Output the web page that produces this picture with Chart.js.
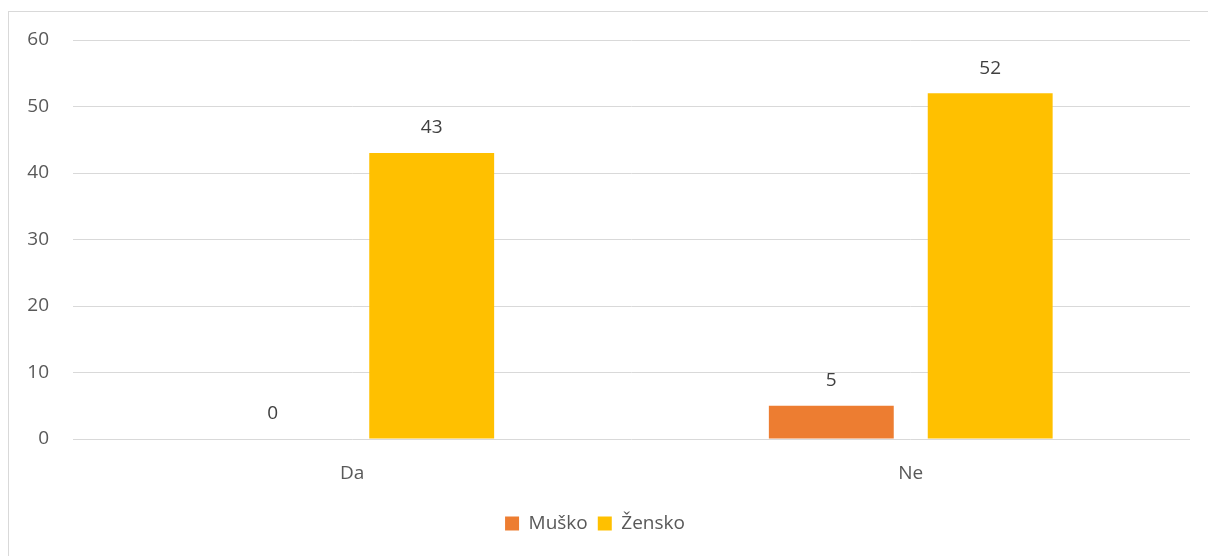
<!DOCTYPE html>
<html>
<head>
<meta charset="utf-8">
<script src="https://cdn.jsdelivr.net/npm/chart.js@4/dist/chart.umd.min.js"></script>
<style>
  html, body { margin: 0; padding: 0; background: #fff; }
  #wrap { position: relative; width: 1208px; height: 556px; }
  #frame {
    position: absolute; left: 8px; top: 11px; width: 1210px; height: 560px;
    border: 1px solid #d9d9d9; box-sizing: border-box;
  }
  canvas { position: absolute; left: 0; top: 0; }
</style>
</head>
<body>
<div id="wrap">
  <div id="frame"></div>
  <canvas id="chart" width="1208" height="556"></canvas>
</div>
<script>
"use strict";

// Chart data
const categories = ["Da", "Ne"];
const seriesNames = ["Muško", "Žensko"];
const muskoValues = [0, 5];
const zenskoValues = [43, 52];
const yTicks = [0, 10, 20, 30, 40, 50, 60];

const FONT = "'Open Sans', 'Noto Sans', sans-serif";

// Draw the value above each bar
const valueLabels = {
  id: "valueLabels",
  afterDatasetsDraw(chart) {
    const ctx = chart.ctx;
    ctx.save();
    ctx.font = "19px " + FONT;
    ctx.fillStyle = "#404040";
    ctx.textAlign = "center";
    ctx.textBaseline = "middle";
    chart.data.datasets.forEach((ds, i) => {
      chart.getDatasetMeta(i).data.forEach((bar, j) => {
        ctx.fillText(String(ds.data[j]), bar.x, bar.y - 25);
      });
    });
    ctx.restore();
  }
};

new Chart(document.getElementById("chart"), {
  type: "bar",
  data: {
    labels: categories,
    datasets: [
      {
        label: seriesNames[0],
        data: muskoValues,
        backgroundColor: "#ED7D31",
        categoryPercentage: 0.569,
        barPercentage: 0.786
      },
      {
        label: seriesNames[1],
        data: zenskoValues,
        backgroundColor: "#FFC000",
        categoryPercentage: 0.569,
        barPercentage: 0.786
      }
    ]
  },
  options: {
    responsive: false,
    animation: false,
    layout: { padding: { left: 0, right: 18, top: 40, bottom: 13 } },
    plugins: {
      tooltip: { enabled: false },
      legend: {
        position: "bottom",
        labels: {
          font: { family: FONT, size: 19 },
          color: "#595959",
          boxWidth: 14,
          boxHeight: 14,
          padding: 10
        }
      }
    },
    scales: {
      x: {
        grid: { display: false },
        border: { display: false },
        ticks: {
          font: { family: FONT, size: 19 },
          color: "#595959",
          padding: 15
        },
        afterFit(scale) { scale.height = 65; }
      },
      y: {
        min: 0,
        max: 60,
        afterBuildTicks(scale) { scale.ticks = yTicks.map(v => ({ value: v })); },
        grid: { color: "#d9d9d9", lineWidth: 1, drawTicks: false },
        border: { display: false },
        ticks: {
          font: { family: FONT, size: 19 },
          color: "#595959",
          padding: 24
        },
        afterFit(scale) { scale.width = 73; }
      }
    }
  },
  plugins: [valueLabels]
});
</script>
</body>
</html>
